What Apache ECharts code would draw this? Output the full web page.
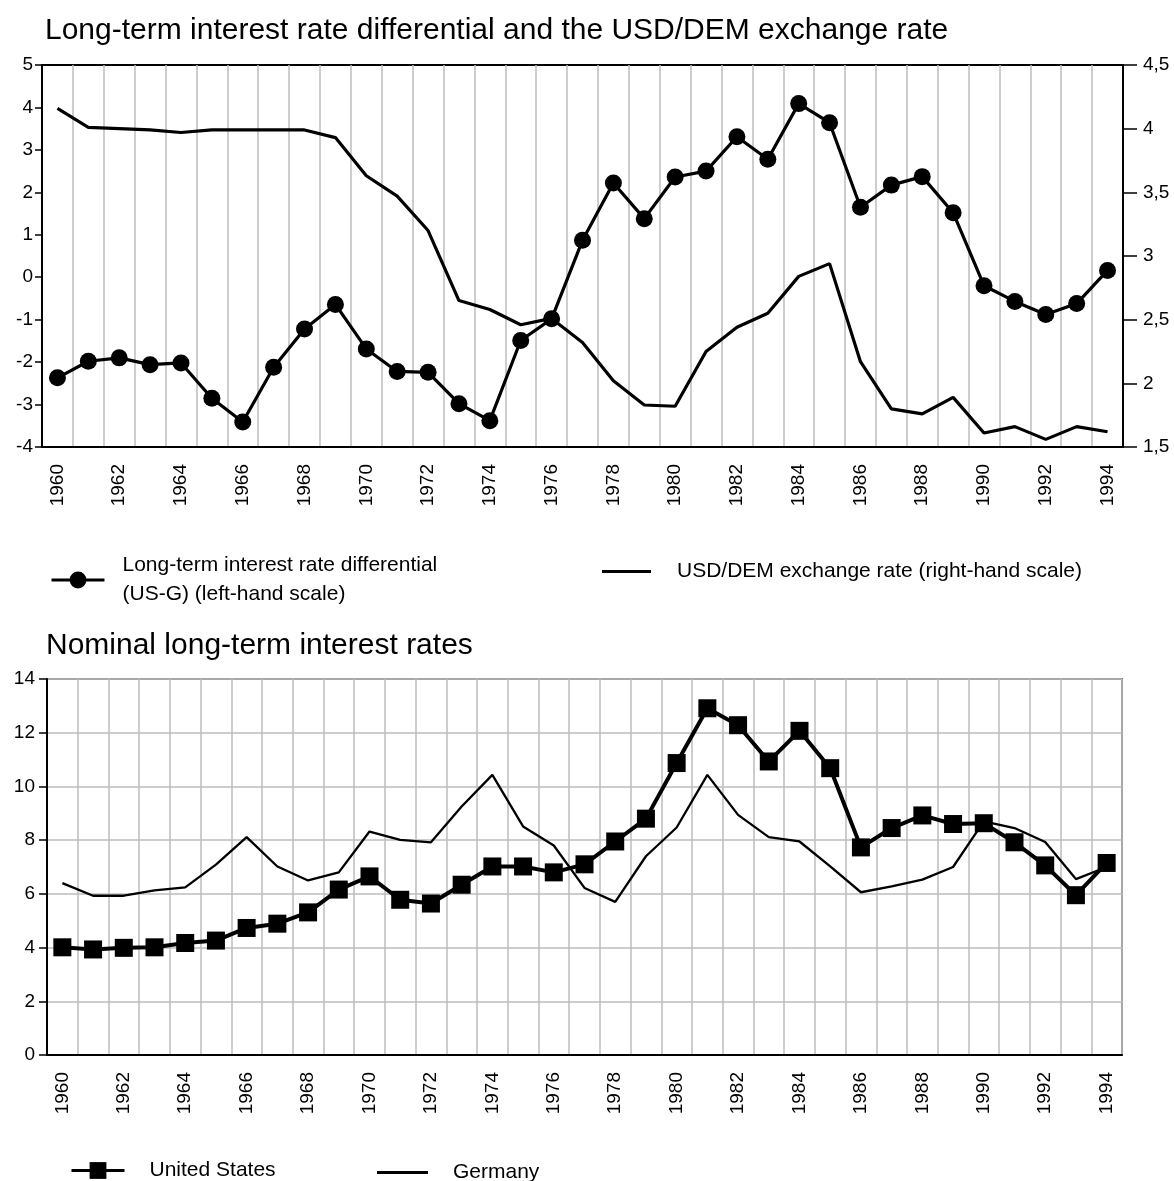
<!DOCTYPE html>
<html>
<head>
<meta charset="utf-8">
<script src="https://cdn.jsdelivr.net/npm/echarts@6/dist/echarts.min.js"></script>
<style>
  html, body { margin: 0; padding: 0; background: #fff; }
  #chart { width: 1174px; height: 1181px; }
</style>
</head>
<body>
<div id="chart"></div>
<script>
// years on both charts
const years = ['1960','1961','1962','1963','1964','1965','1966','1967','1968','1969',
  '1970','1971','1972','1973','1974','1975','1976','1977','1978','1979',
  '1980','1981','1982','1983','1984','1985','1986','1987','1988','1989',
  '1990','1991','1992','1993','1994']

// top chart: interest rate differential (left scale), USD/DEM rate (right scale)
const rateDiff = [-2.37, -1.98, -1.90, -2.06, -2.02, -2.85, -3.41, -2.12, -1.22, -0.64,
  -1.69, -2.22, -2.24, -2.98, -3.38, -1.49, -0.98, 0.87, 2.22, 1.38,
  2.36, 2.50, 3.31, 2.78, 4.09, 3.64, 1.65, 2.17, 2.37, 1.52,
  -0.20, -0.57, -0.88, -0.62, 0.16]
const usdDem = [4.16, 4.01, 4.00, 3.99, 3.97, 3.99, 3.99, 3.99, 3.99, 3.93,
  3.63, 3.47, 3.20, 2.65, 2.58, 2.46, 2.51, 2.32, 2.02, 1.83,
  1.82, 2.25, 2.44, 2.55, 2.84, 2.94, 2.17, 1.80, 1.76, 1.89,
  1.61, 1.66, 1.56, 1.66, 1.62]

// bottom chart: nominal long-term rates
const usRates = [4.01, 3.93, 3.99, 4.01, 4.17, 4.26, 4.73, 4.89, 5.31, 6.16,
  6.65, 5.78, 5.64, 6.34, 7.02, 7.02, 6.80, 7.10, 7.95, 8.80,
  10.87, 12.91, 12.28, 10.93, 12.07, 10.68, 7.73, 8.45, 8.92, 8.60,
  8.63, 7.92, 7.06, 5.95, 7.15]
const germanyRates = [6.40, 5.93, 5.93, 6.13, 6.24, 7.09, 8.11, 7.02, 6.50, 6.80,
  8.32, 8.01, 7.92, 9.25, 10.43, 8.51, 7.80, 6.22, 5.70, 7.40,
  8.47, 10.43, 8.94, 8.11, 7.95, 7.02, 6.06, 6.28, 6.53, 7.00,
  8.70, 8.45, 7.93, 6.55, 7.00]

const FONT = '"Liberation Sans", Arial, sans-serif'
const SERIES_DIFF = 'Long-term interest rate differential'
const SERIES_USD = 'USD/DEM exchange rate (right-hand scale)'

const chart = echarts.init(document.getElementById('chart'), null, { renderer: 'canvas' })

// x axis shared look: ticks/gridlines at year boundaries, every other year labelled
function yearAxis(gridIndex) {
  return {
    type: 'category',
    gridIndex: gridIndex,
    data: years,
    boundaryGap: true,
    axisLine: { onZero: false, lineStyle: { color: '#000', width: 2 } },
    axisTick: { interval: 0, length: 8, lineStyle: { color: '#000', width: 1.5 } },
    axisLabel: { interval: 1, rotate: 90, margin: 17, fontSize: 19, color: '#000', fontFamily: FONT },
    splitLine: { show: true, interval: 0, lineStyle: { color: '#bdbdbd', width: 1.5 } }
  }
}

const legendText = { fontSize: 21, color: '#000', fontFamily: FONT }

const option = {
  backgroundColor: '#fff',
  animation: false,
  textStyle: { fontFamily: FONT },
  title: [
    {
      text: 'Long-term interest rate differential and the USD/DEM exchange rate',
      left: 40, top: 11,
      textStyle: { fontSize: 30, fontWeight: 'normal', color: '#000', fontFamily: FONT }
    },
    {
      text: 'Nominal long-term interest rates',
      left: 41, top: 626,
      textStyle: { fontSize: 30, fontWeight: 'normal', color: '#000', fontFamily: FONT }
    }
  ],
  legend: [
    {
      data: [SERIES_DIFF], left: 45, top: 546, itemWidth: 53, itemHeight: 21,
      lineStyle: { width: 3 },
      formatter: () => 'Long-term interest rate differential\n(US-G) (left-hand scale)',
      textStyle: Object.assign({ lineHeight: 29, padding: [0, 0, 0, 13] }, legendText)
    },
    {
      data: [{ name: SERIES_USD, icon: 'rect' }], left: 597, top: 556, itemWidth: 49, itemHeight: 3,
      itemStyle: { color: '#000' },
      textStyle: Object.assign({ padding: [0, 0, 0, 21] }, legendText)
    },
    {
      data: ['United States'], left: 65, top: 1155, itemWidth: 53, itemHeight: 21,
      lineStyle: { width: 3 },
      textStyle: Object.assign({ padding: [0, 0, 0, 20] }, legendText)
    },
    {
      data: [{ name: 'Germany', icon: 'rect' }], left: 372, top: 1157, itemWidth: 51, itemHeight: 3,
      itemStyle: { color: '#000' },
      textStyle: Object.assign({ padding: [0, 0, 0, 20] }, legendText)
    }
  ],
  grid: [
    { left: 42, right: 51, top: 65, height: 382, show: true, borderColor: '#000', borderWidth: 2, backgroundColor: 'transparent' },
    { left: 47, right: 52, top: 679, height: 376, show: true, borderColor: '#6e6e6e', borderWidth: 2, backgroundColor: 'transparent' }
  ],
  xAxis: [yearAxis(0), yearAxis(1)],
  yAxis: [
    {
      type: 'value', gridIndex: 0, position: 'left', min: -4, max: 5, interval: 1,
      axisLine: { show: true, lineStyle: { color: '#000', width: 2 } },
      axisTick: { show: true, length: 7, lineStyle: { color: '#000', width: 1.5 } },
      axisLabel: { fontSize: 19, color: '#000', margin: 9, fontFamily: FONT },
      splitLine: { show: false }
    },
    {
      type: 'value', gridIndex: 0, position: 'right', min: 1.5, max: 4.5, interval: 0.5,
      axisLine: { show: true, lineStyle: { color: '#000', width: 2 } },
      axisTick: { show: true, length: 14, lineStyle: { color: '#000', width: 1.5 } },
      axisLabel: {
        fontSize: 19, color: '#000', margin: 20, fontFamily: FONT,
        formatter: v => String(v).replace('.', ',')
      },
      splitLine: { show: false }
    },
    {
      type: 'value', gridIndex: 1, min: 0, max: 14, interval: 2,
      axisLine: { show: true, lineStyle: { color: '#000', width: 2 } },
      axisTick: { show: true, length: 8, lineStyle: { color: '#000', width: 1.5 } },
      axisLabel: { fontSize: 19, color: '#000', margin: 12, fontFamily: FONT },
      splitLine: { show: true, lineStyle: { color: '#bdbdbd', width: 1.5 } }
    }
  ],
  series: [
    {
      name: SERIES_DIFF, type: 'line', xAxisIndex: 0, yAxisIndex: 0, data: rateDiff,
      symbol: 'circle', symbolSize: 17,
      lineStyle: { color: '#000', width: 3.2 }, itemStyle: { color: '#000' }
    },
    {
      name: SERIES_USD, type: 'line', xAxisIndex: 0, yAxisIndex: 1, data: usdDem,
      symbol: 'none',
      lineStyle: { color: '#000', width: 3.2 }, itemStyle: { color: '#000' }
    },
    {
      name: 'United States', type: 'line', xAxisIndex: 1, yAxisIndex: 2, data: usRates,
      symbol: 'rect', symbolSize: 18, z: 3,
      lineStyle: { color: '#000', width: 4 }, itemStyle: { color: '#000' }
    },
    {
      name: 'Germany', type: 'line', xAxisIndex: 1, yAxisIndex: 2, data: germanyRates,
      symbol: 'none',
      lineStyle: { color: '#000', width: 2.3 }, itemStyle: { color: '#000' }
    }
  ]
}

chart.setOption(option)
</script>
</body>
</html>
